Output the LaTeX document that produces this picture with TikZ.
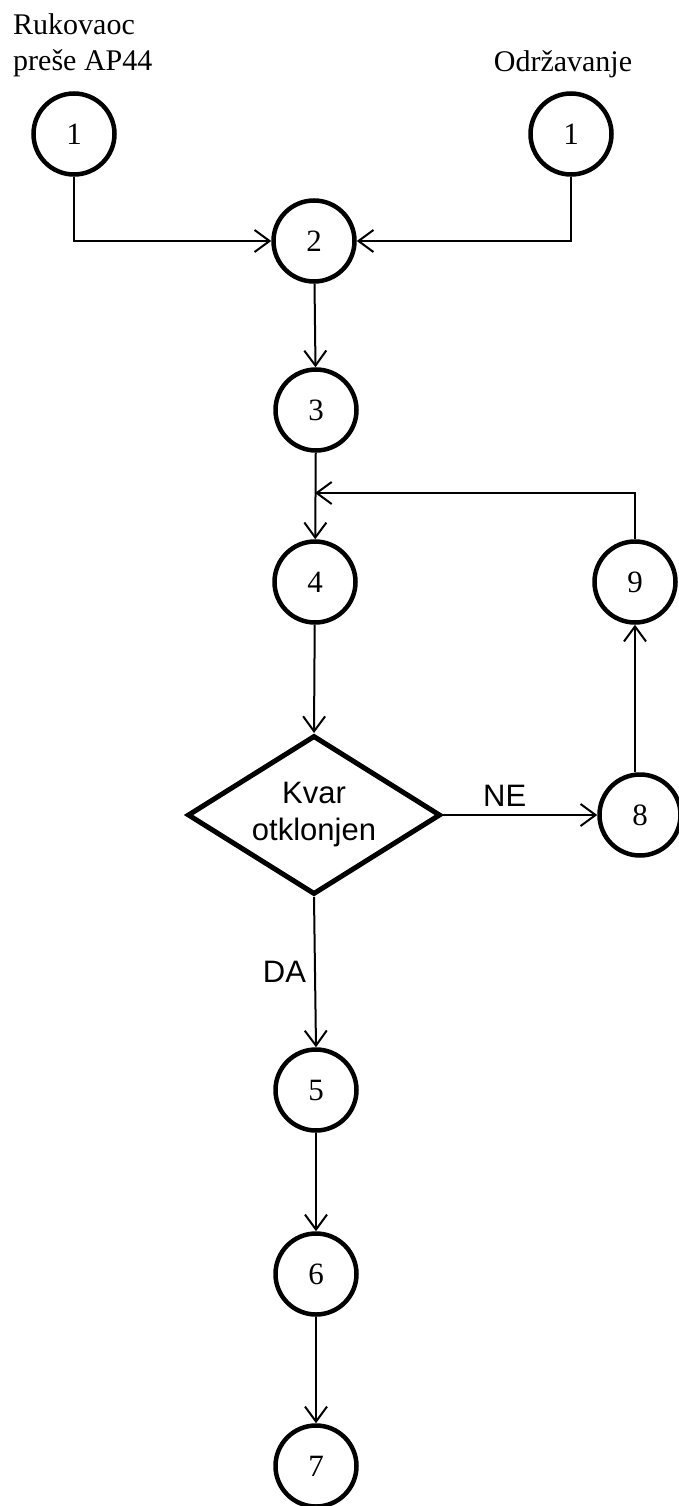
\documentclass[tikz,border=0pt]{standalone}
\usepackage{fontspec}
\setmainfont{Liberation Serif}
\newfontfamily\sansf{Liberation Sans}
\usetikzlibrary{arrows.meta,shapes.geometric}
\begin{document}
\begin{tikzpicture}[x=1pt,y=-1pt,
  stepcirc/.style={circle,draw,line width=4.5pt,minimum size=81pt,inner sep=0pt,
    font=\fontsize{31}{36}\selectfont},
  decision/.style={diamond,aspect=1.6,draw,line width=5pt,minimum width=253pt,minimum height=159pt,
    inner sep=0pt,align=center,font=\sansf\fontsize{31}{37}\selectfont},
  conn/.style={line width=2pt,-{Straight Barb[length=15pt,width=22pt,line width=2pt]}},
  lbl/.style={font=\fontsize{30}{36}\selectfont,inner sep=0pt},
  slbl/.style={font=\sansf\fontsize{31}{37}\selectfont,inner sep=0pt}]
\useasboundingbox (0,0) rectangle (679,1506);
\node[lbl,anchor=base west] (t1) at (13,35) {Rukovaoc};
\node[lbl,anchor=base west] (t2) at (13,71) {preše AP44};
\node[lbl,anchor=base] (t3) at (563,72) {Održavanje};
\node[stepcirc] (c1L) at (74,134) {1};
\node[stepcirc] (c1R) at (571,134) {1};
\node[stepcirc] (c2) at (314,241) {2};
\node[stepcirc] (c3) at (316,410) {3};
\node[stepcirc] (c4) at (315,582) {4};
\node[stepcirc] (c9) at (635,582) {9};
\node[decision] (dia) at (314,815) {Kvar\\otklonjen};
\node[stepcirc] (c8) at (640,815) {8};
\node[stepcirc] (c5) at (316,1090) {5};
\node[stepcirc] (c6) at (316,1274) {6};
\node[stepcirc] (c7) at (316,1466) {7};
\coordinate (j) at (315,493);
\draw[conn] (c1L.south) |- (c2.west);
\draw[conn] (c1R.south) |- (c2.east);
\draw[conn] (c2) -- (c3);
\draw[conn] (c3) -- (c4);
\draw[conn] (c9.north) |- (j);
\draw[conn] (c4) -- (dia.north);
\draw[conn] (dia.east) -- node[slbl,above=8pt,pos=0.4] (ne) {NE} (c8.west);
\draw[conn] (c9.south |- c8.north) -- (c9.south);
\draw[conn] (dia.south) -- node[slbl,left=8pt,pos=0.5] (da) {DA} (c5.north);
\draw[conn] (c5) -- (c6);
\draw[conn] (c6) -- (c7);
\end{tikzpicture}
\end{document}
